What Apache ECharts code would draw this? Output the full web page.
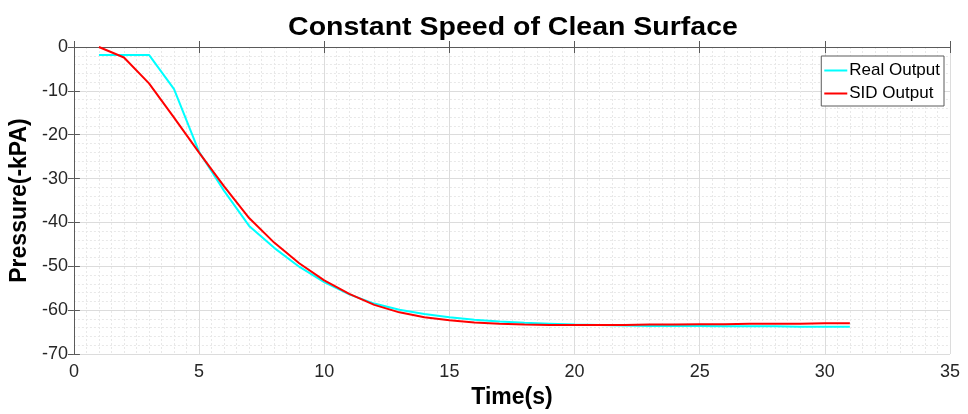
<!DOCTYPE html>
<html>
<head>
<meta charset="utf-8">
<script src="https://cdn.jsdelivr.net/npm/echarts@6/dist/echarts.min.js"></script>
<style>
  html, body { margin: 0; padding: 0; background: #fff; }
  #chart { width: 968px; height: 414px; }
</style>
</head>
<body>
<div id="chart"></div>
<script>
// Time samples (s)
const timeSec = [1,2,3,4,5,6,7,8,9,10,11,12,13,14,15,16,17,18,19,20,21,22,23,24,25,26,27,28,29,30,31];
// Measured pressure response (-kPA)
const realOutput = [-1.8,-1.8,-1.8,-9.6,-23.9,-32.8,-40.8,-45.8,-50.1,-53.6,-56.4,-58.5,-59.9,-60.9,-61.6,-62.2,-62.6,-62.9,-63.1,-63.3,-63.4,-63.5,-63.6,-63.6,-63.6,-63.7,-63.7,-63.7,-63.8,-63.8,-63.8];
// Identified model response (-kPA)
const sidOutput = [0,-2.4,-8.3,-16.1,-24.1,-31.8,-39.0,-44.6,-49.3,-53.2,-56.3,-58.8,-60.5,-61.6,-62.3,-62.8,-63.1,-63.3,-63.4,-63.4,-63.4,-63.4,-63.3,-63.3,-63.2,-63.2,-63.1,-63.1,-63.1,-63.0,-63.0];
// Axis ranges [min, max, step]
const xRange = [0, 35, 5];
const yRange = [-70, 0, 10];

const FONT = 'Arial, "Liberation Sans", sans-serif';
const chart = echarts.init(document.getElementById('chart'), null, { renderer: 'canvas' });

const pair = (xs, ys) => xs.map((x, i) => [x, ys[i]]);

const frameAxisLine = { show: true, lineStyle: { color: '#5a5a5a', width: 1 } };
const innerTick = { show: true, inside: true, length: 6, lineStyle: { color: '#5a5a5a' } };

chart.setOption({
  backgroundColor: '#ffffff',
  animation: false,
  graphic: [
    {
      // chart title, drawn slightly wide
      type: 'text', x: 513, y: 28, scaleX: 1.14, z: 10,
      style: {
        text: 'Constant Speed of Clean Surface',
        font: 'bold 25px ' + FONT, fill: '#000',
        textAlign: 'center', textVerticalAlign: 'middle'
      }
    }
  ],
  legend: {
    right: 24, top: 56, orient: 'vertical',
    backgroundColor: '#fff', borderColor: '#5a5a5a', borderWidth: 1, borderRadius: 0,
    padding: [5, 4, 3, 3], itemGap: 4, itemWidth: 23, itemHeight: 2,
    textStyle: { fontFamily: FONT, fontSize: 17, lineHeight: 19, color: '#000', padding: [0, 0, 0, -3] },
    data: [
      { name: 'Real Output', icon: 'rect' },
      { name: 'SID Output', icon: 'rect' }
    ]
  },
  grid: { left: 72, right: 18, top: 47, bottom: 60, containLabel: false },
  xAxis: [
    {
      type: 'value', min: xRange[0], max: xRange[1], interval: xRange[2],
      name: 'Time(s)', nameLocation: 'middle', nameGap: 32,
      nameTextStyle: { fontFamily: FONT, fontWeight: 'bold', fontSize: 23, color: '#000' },
      axisLine: frameAxisLine, axisTick: innerTick,
      axisLabel: { fontFamily: FONT, fontSize: 18, color: '#262626', margin: 9 },
      splitLine: { show: true, lineStyle: { color: '#dcdcdc', width: 1 } },
      minorTick: { show: false, splitNumber: 10 },
      minorSplitLine: { show: true, lineStyle: { color: '#e8e8e8', width: 1, type: [2, 2] } }
    },
    {
      type: 'value', position: 'top', min: xRange[0], max: xRange[1], interval: xRange[2],
      axisLine: frameAxisLine, axisTick: innerTick, axisLabel: { show: false }, splitLine: { show: false }
    }
  ],
  yAxis: [
    {
      type: 'value', min: yRange[0], max: yRange[1], interval: yRange[2],
      name: 'Pressure(-kPA)', nameLocation: 'middle', nameGap: 35, nameRotate: 90,
      nameTextStyle: { fontFamily: FONT, fontWeight: 'bold', fontSize: 23, color: '#000' },
      axisLine: frameAxisLine, axisTick: innerTick,
      axisLabel: { fontFamily: FONT, fontSize: 18, color: '#262626', margin: 6 },
      splitLine: { show: true, lineStyle: { color: '#dcdcdc', width: 1 } },
      minorTick: { show: false, splitNumber: 5 },
      minorSplitLine: { show: true, lineStyle: { color: '#e8e8e8', width: 1, type: [2, 2] } }
    },
    {
      type: 'value', position: 'right', min: yRange[0], max: yRange[1], interval: yRange[2],
      axisLine: frameAxisLine, axisTick: innerTick, axisLabel: { show: false }, splitLine: { show: false }
    }
  ],
  series: [
    {
      name: 'Real Output', type: 'line', data: pair(timeSec, realOutput),
      symbol: 'none', smooth: false, z: 3,
      itemStyle: { color: '#00ffff' },
      lineStyle: { color: '#00ffff', width: 2 }
    },
    {
      name: 'SID Output', type: 'line', data: pair(timeSec, sidOutput),
      symbol: 'none', smooth: false, z: 4,
      itemStyle: { color: '#ff0000' },
      lineStyle: { color: '#ff0000', width: 2 }
    }
  ]
});
</script>
</body>
</html>
